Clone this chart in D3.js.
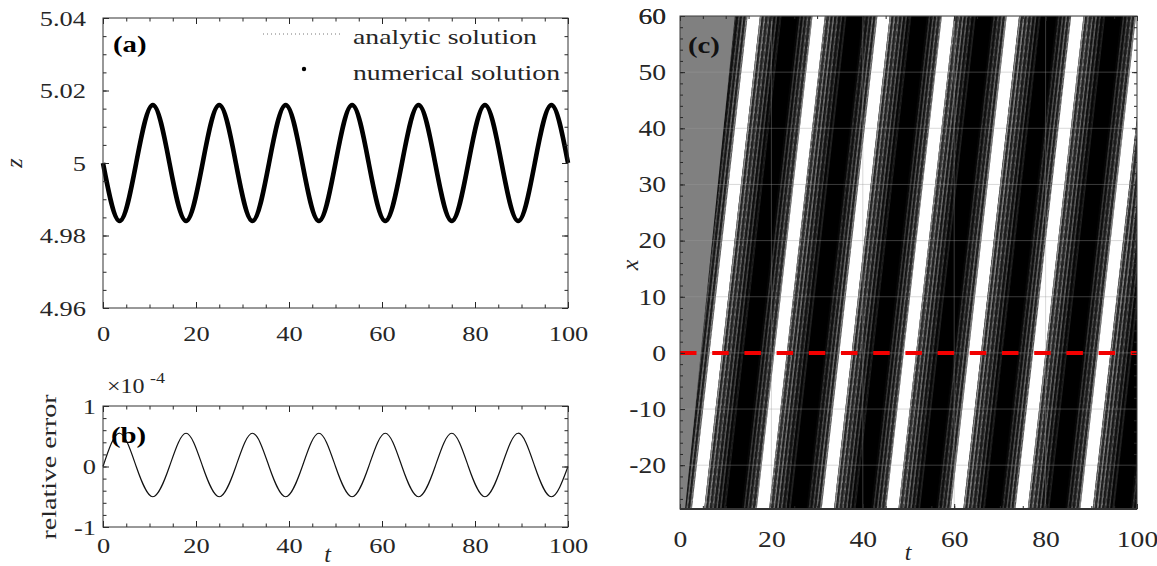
<!DOCTYPE html>
<html>
<head>
<meta charset="utf-8">
<script src="https://cdn.jsdelivr.net/npm/d3@7"></script>
<style>
  body { margin: 0; background: #fff; }
</style>
</head>
<body>
<svg id="fig" width="1157" height="566"></svg>
<script>
// ---------------- data ----------------
const tTicks = [0, 20, 40, 60, 80, 100];
const zTicks = [4.96, 4.98, 5, 5.02, 5.04];
const zTickLabels = ["4.96", "4.98", "5", "5.02", "5.04"];
const errTicks = [-1, 0, 1];
const errTickLabels = ["-1", "0", "1"];
const xTicks = [-20, -10, 0, 10, 20, 30, 40, 50, 60];

// samples at quarter periods (extrema and crossings) of the oscillation
const tSamples = [0, 3.57, 7.14, 10.71, 14.29, 17.86, 21.43, 25.00, 28.57, 32.14,
  35.71, 39.29, 42.86, 46.43, 50.00, 53.57, 57.14, 60.71, 64.29, 67.86, 71.43,
  75.00, 78.57, 82.14, 85.71, 89.29, 92.86, 96.43, 100];
const zNumerical = [5.000, 4.984, 5.000, 5.016, 5.000, 4.984, 5.000, 5.016, 5.000, 4.984,
  5.000, 5.016, 5.000, 4.984, 5.000, 5.016, 5.000, 4.984, 5.000, 5.016, 5.000,
  4.984, 5.000, 5.016, 5.000, 4.984, 5.000, 5.016, 5.000];
const zAnalytic = [5.000, 4.984, 5.000, 5.016, 5.000, 4.984, 5.000, 5.016, 5.000, 4.984,
  5.000, 5.016, 5.000, 4.984, 5.000, 5.016, 5.000, 4.984, 5.000, 5.016, 5.000,
  4.984, 5.000, 5.016, 5.000, 4.984, 5.000, 5.016, 5.000];
// relative error, in units of 1e-4
const relError = [0, 0.55, 0, -0.50, 0, 0.55, 0, -0.50, 0, 0.55,
  0, -0.50, 0, 0.55, 0, -0.50, 0, 0.55, 0, -0.50, 0,
  0.55, 0, -0.50, 0, 0.55, 0, -0.50, 0];

// space-time field: start time of each bright band at the lower edge x = xLow
const xLow = -27.8, xHigh = 60;
const brightStarts = [-11.6, 2.6, 16.8, 31.0, 45.1, 59.3, 73.4, 87.6, 101.8];
const bandTravel = 12.2;           // time shift of a band between lower and upper edge
const brightWidth = 2.7;           // width in t of the bright band
const riseWidth = 3.3;             // shaded band ahead of the bright band
const fallWidth = 4.7;             // shaded band behind the bright band
const frontLow = 1.1, frontHigh = 12.0; // undisturbed region ends here (t at lower / upper edge)
const probeX = 0;

// ---------------- layout ----------------
const svg = d3.select("#fig");
const A = { l: 103, r: 568, t: 18, b: 308 };
const B = { l: 103, r: 568, t: 406, b: 527 };
const C = { l: 680, r: 1137, t: 16, b: 509 };
const ink = "#262626";
const serifFace = '"Liberation Serif"';
const wide = 1.2;       // horizontal stretch applied to the lettering
const wideLegend = 1.26;

const xA = d3.scaleLinear().domain([0, 100]).range([A.l, A.r]);
const yA = d3.scaleLinear().domain([4.96, 5.04]).range([A.b, A.t]);
const xB = d3.scaleLinear().domain([0, 100]).range([B.l, B.r]);
const yB = d3.scaleLinear().domain([-1, 1]).range([B.b, B.t]);
const xC = d3.scaleLinear().domain([0, 100]).range([C.l, C.r]);
const yC = d3.scaleLinear().domain([xLow, xHigh]).range([C.b, C.t]);

function clean(g) {
  g.attr("color", ink);
  g.select(".domain").remove();
}
function labels(g, size) {
  clean(g);
  g.attr("font-size", size).attr("font-family", null);
  g.selectAll("text").attr("fill", ink);
}

function frame(box, x, y, o) {
  const g = svg.append("g");
  const mk = (axis, tx, ty) => g.append("g").attr("transform", `translate(${tx},${ty})`).call(axis);
  // minor ticks
  mk(d3.axisBottom(x).tickValues(o.xMinor).tickSize(-o.minor).tickFormat(""), 0, box.b).call(clean);
  mk(d3.axisTop(x).tickValues(o.xMinor).tickSize(-o.minor).tickFormat(""), 0, box.t).call(clean);
  mk(d3.axisLeft(y).tickValues(o.yMinor).tickSize(-o.minor).tickFormat(""), box.l, 0).call(clean);
  mk(d3.axisRight(y).tickValues(o.yMinor).tickSize(-o.minor).tickFormat(""), box.r, 0).call(clean);
  // major ticks with labels
  mk(d3.axisBottom(x).tickValues(o.xMajor).tickSize(-o.major).tickPadding(o.xPad).tickFormat(d3.format("d")), 0, box.b)
    .call(labels, o.fs);
  mk(d3.axisTop(x).tickValues(o.xMajor).tickSize(-o.major).tickFormat(""), 0, box.t).call(clean);
  mk(d3.axisLeft(y).tickValues(o.yMajor).tickSize(-o.major).tickPadding(o.yPad)
      .tickFormat((d, i) => o.yLabels[i]), box.l, 0).call(labels, o.fs);
  mk(d3.axisRight(y).tickValues(o.yMajor).tickSize(-o.major).tickFormat(""), box.r, 0).call(clean);
  g.append("rect").attr("x", box.l).attr("y", box.t)
    .attr("width", box.r - box.l).attr("height", box.b - box.t)
    .attr("fill", "none").attr("stroke", o.boxColor || "#333").attr("stroke-width", 1);
  return g;
}

// ---------------- panel (a) ----------------
const ptsA = tSamples.map((t, i) => [t, zNumerical[i]]);
const ptsAn = tSamples.map((t, i) => [t, zAnalytic[i]]);
const lineA = d3.line().x(d => xA(d[0])).y(d => yA(d[1])).curve(d3.curveNatural);
svg.append("path").attr("d", lineA(ptsAn)).attr("fill", "none")
  .attr("stroke", "#888").attr("stroke-width", 1).attr("stroke-dasharray", "1,3");
svg.append("path").attr("d", lineA(ptsA)).attr("fill", "none")
  .attr("stroke", "#000").attr("stroke-width", 4.6).attr("stroke-linejoin", "round");

frame(A, xA, yA, {
  xMinor: d3.range(0, 100.01, 5), xMajor: tTicks,
  yMinor: d3.range(4.96, 5.0401, 0.005), yMajor: zTicks, yLabels: zTickLabels,
  minor: 3.5, major: 6, xPad: 17, yPad: 17, fs: 22
});

// legend
svg.append("line").attr("x1", 263).attr("x2", 340).attr("y1", 34).attr("y2", 34)
  .attr("stroke", "#777").attr("stroke-width", 1).attr("stroke-dasharray", "1,3");
svg.append("text").attr("x", 353).attr("y", 44).attr("font-size", 22)
  .attr("fill", ink).attr("class", "legend").text("analytic solution");
svg.append("circle").attr("cx", 304).attr("cy", 69).attr("r", 2.2).attr("fill", "#000");
svg.append("text").attr("x", 353).attr("y", 80).attr("font-size", 22)
  .attr("fill", ink).attr("class", "legend").text("numerical solution");

svg.append("text").attr("x", 113).attr("y", 52).attr("font-size", 24).attr("font-weight", "bold")
  .attr("class", "stretch").text("(a)");
svg.append("text").attr("transform", "translate(22,163) rotate(-90)").attr("text-anchor", "middle")
  .attr("font-size", 24).attr("font-style", "italic").attr("fill", ink).text("z");

// ---------------- panel (b) ----------------
const ptsB = tSamples.map((t, i) => [t, relError[i]]);
const lineB = d3.line().x(d => xB(d[0])).y(d => yB(d[1])).curve(d3.curveNatural);
svg.append("path").attr("d", lineB(ptsB)).attr("fill", "none")
  .attr("stroke", "#111").attr("stroke-width", 1.2);

frame(B, xB, yB, {
  xMinor: d3.range(0, 100.01, 5), xMajor: tTicks,
  yMinor: d3.range(-1, 1.001, 0.2), yMajor: errTicks, yLabels: errTickLabels,
  minor: 3.5, major: 6, xPad: 10, yPad: 7, fs: 22
});
svg.append("text").attr("x", 107).attr("y", 393).attr("font-size", 20)
  .attr("fill", ink).attr("class", "stretch").text("×10");
svg.append("text").attr("x", 150).attr("y", 383).attr("font-size", 15)
  .attr("fill", ink).attr("class", "stretch").text("-4");
svg.append("text").attr("x", 111).attr("y", 443).attr("font-size", 24).attr("font-weight", "bold")
  .attr("class", "stretch").text("(b)");
svg.append("text").attr("transform", "translate(56,467) rotate(-90) scale(1.27,1)").attr("text-anchor", "middle")
  .attr("font-size", 22).attr("fill", ink).text("relative error");
svg.append("text").attr("x", xB(50) - 8).attr("y", 562).attr("text-anchor", "middle")
  .attr("font-size", 24).attr("font-style", "italic").attr("fill", ink).text("t");

// ---------------- panel (c) ----------------
const defs = svg.append("defs");
defs.append("clipPath").attr("id", "clipC").append("rect")
  .attr("x", C.l).attr("y", C.t).attr("width", C.r - C.l).attr("height", C.b - C.t);
// fine broken streaks running along the bands
const lean = Math.atan2(xC(bandTravel) - xC(0), yC(xLow) - yC(xHigh)) * 180 / Math.PI;
const grain = defs.append("pattern").attr("id", "grain").attr("patternUnits", "userSpaceOnUse")
  .attr("width", 3).attr("height", 7).attr("patternTransform", `rotate(${lean})`);
grain.append("rect").attr("x", 0).attr("y", 0).attr("width", 1.1).attr("height", 4.5).attr("fill", "#000");
grain.append("rect").attr("x", 1.6).attr("y", 3.5).attr("width", 0.8).attr("height", 2.5).attr("fill", "#000");

const field = svg.append("g").attr("clip-path", "url(#clipC)");
// shaded band profiles (grey level of thin streaks across each band)
const riseShade = [8, 55, 18, 80, 30, 105, 40, 130];               // dark side -> bright side
const fallShade = [145, 50, 128, 40, 112, 30, 92, 20, 65, 8, 35];  // bright side -> dark side

const band = (a, b) => {
  const pts = [[a, xLow], [b, xLow], [b + bandTravel, xHigh], [a + bandTravel, xHigh]];
  return "M" + pts.map(p => [xC(p[0]), yC(p[1])].join(",")).join("L") + "Z";
};

field.append("rect").attr("x", C.l).attr("y", C.t)
  .attr("width", C.r - C.l).attr("height", C.b - C.t).attr("fill", "#000");

brightStarts.forEach(s => {
  const r0 = s - riseWidth, rw = riseWidth / riseShade.length;
  riseShade.forEach((v, i) => {
    field.append("path").attr("d", band(r0 + i * rw, r0 + (i + 1) * rw + 0.02))
      .attr("fill", d3.rgb(v, v, v));
  });
  field.append("path").attr("d", band(r0, s)).attr("fill", "url(#grain)").attr("opacity", 0.45);
  field.append("path").attr("d", band(s, s + brightWidth)).attr("fill", "#fff");
  const f0 = s + brightWidth, fw = fallWidth / fallShade.length;
  fallShade.forEach((v, i) => {
    field.append("path").attr("d", band(f0 + i * fw, f0 + (i + 1) * fw + 0.02))
      .attr("fill", d3.rgb(v, v, v));
  });
  field.append("path").attr("d", band(f0, f0 + fallWidth)).attr("fill", "url(#grain)").attr("opacity", 0.45);
});

// undisturbed region ahead of the front
const quiet = [[0, xHigh], [frontHigh, xHigh], [frontLow, xLow], [0, xLow]];
field.append("path")
  .attr("d", "M" + quiet.map(p => [xC(p[0]), yC(p[1])].join(",")).join("L") + "Z")
  .attr("fill", "#808080");

// grid
const grid = field.append("g").attr("stroke", "#9a9a9a").attr("stroke-opacity", 0.38).attr("stroke-width", 1);
tTicks.slice(1, -1).forEach(t => grid.append("line")
  .attr("x1", xC(t)).attr("x2", xC(t)).attr("y1", C.t).attr("y2", C.b));
xTicks.forEach(v => grid.append("line")
  .attr("x1", C.l).attr("x2", C.r).attr("y1", yC(v)).attr("y2", yC(v)));

// probe position
field.append("line").attr("x1", xC(0)).attr("x2", xC(100)).attr("y1", yC(probeX)).attr("y2", yC(probeX))
  .attr("stroke", "#f20000").attr("stroke-width", 4).attr("stroke-dasharray", "16.5,15.7");

frame(C, xC, yC, {
  xMinor: d3.range(0, 100.01, 5), xMajor: tTicks,
  yMinor: d3.range(-26, 60.01, 2), yMajor: xTicks.concat([60]),
  yLabels: xTicks.concat([60]).map(String),
  minor: 3, major: 5, xPad: 22, yPad: 14, fs: 23, boxColor: "#3a3a3a"
});
svg.append("line").attr("x1", C.l).attr("x2", C.r).attr("y1", C.b).attr("y2", C.b)
  .attr("stroke", "#333").attr("stroke-width", 2);

svg.append("text").attr("x", 688).attr("y", 53).attr("font-size", 24).attr("font-weight", "bold")
  .attr("fill", "#111").attr("class", "stretch").text("(c)");
svg.append("text").attr("transform", "translate(638,265) rotate(-90)").attr("text-anchor", "middle")
  .attr("font-size", 24).attr("font-style", "italic").attr("fill", ink).text("x");
svg.append("text").attr("x", 908).attr("y", 560).attr("text-anchor", "middle")
  .attr("font-size", 24).attr("font-style", "italic").attr("fill", ink).text("t");

// one typeface for every label
svg.selectAll("text").style("font-family", serifFace);

// widen left-anchored labels about their start point, tick labels about their anchor
const widen = (sel, k) => sel.each(function () {
  const t = d3.select(this), x = +t.attr("x"), y = +t.attr("y");
  t.attr("transform", `translate(${x},${y}) scale(${k},1) translate(${-x},${-y})`);
});
widen(svg.selectAll("text.stretch"), wide);
widen(svg.selectAll("text.legend"), wideLegend);
svg.selectAll(".tick text").each(function () {
  const t = d3.select(this);
  const x = +t.attr("x") || 0;
  t.attr("transform", `translate(${x},0) scale(${wide},1) translate(${-x},0)`);
});
</script>
</body>
</html>
